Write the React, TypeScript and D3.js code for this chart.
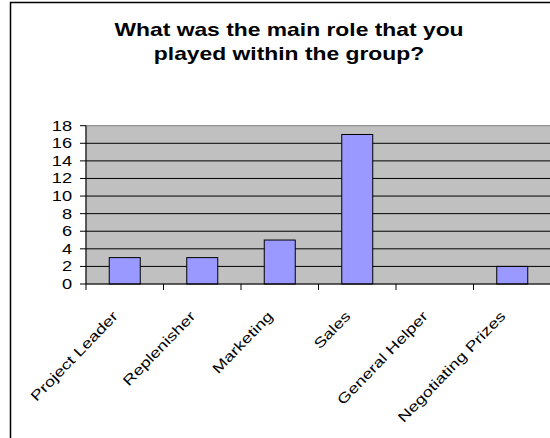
import React from "react";
import * as d3 from "d3";

const categories: string[] = [
  "Project Leader",
  "Replenisher",
  "Marketing",
  "Sales",
  "General Helper",
  "Negotiating Prizes",
];
const values: number[] = [3, 3, 5, 17, 0, 2];
const yTicks: number[] = [0, 2, 4, 6, 8, 10, 12, 14, 16, 18];
const titleLines: string[] = ["What was the main role that you", "played within the group?"];

const W = 550;
const H = 438;
const plot = { left: 86, right: 551, top: 125.7, bottom: 284 };
const SX = 1.3;

export default function App() {
  const x = d3
    .scaleBand<string>()
    .domain(categories)
    .range([plot.left, plot.right])
    .paddingInner(0.6)
    .paddingOuter(0.3);
  const step = x.step();
  const y = d3.scaleLinear().domain([0, 18]).range([plot.bottom, plot.top]);
  const font = "'Liberation Sans', Arial, sans-serif";

  return (
    <svg
      width={W}
      height={H}
      style={{ position: "absolute", left: 0, top: 0, background: "#fff" }}
    >
      <rect x={10.5} y={2.5} width={700} height={600} fill="#fff" stroke="#000" strokeWidth={1.5} />
      {titleLines.map((t, i) => (
        <text
          key={i}
          transform={`translate(289, ${36 + i * 24}) scale(1.27,1)`}
          textAnchor="middle"
          fontFamily={font}
          fontWeight="bold"
          fontSize={18}
          fill="#000"
        >
          {t}
        </text>
      ))}
      <rect
        x={plot.left}
        y={plot.top}
        width={plot.right - plot.left}
        height={plot.bottom - plot.top}
        fill="#c0c0c0"
        stroke="#808080"
        strokeWidth={1}
      />
      {yTicks.slice(1, -1).map((t) => (
        <line key={t} x1={plot.left} x2={plot.right} y1={y(t)} y2={y(t)} stroke="#000" strokeWidth={1} />
      ))}
      {categories.map((c, i) => (
        <rect
          key={c}
          x={x(c)}
          y={y(values[i])}
          width={x.bandwidth()}
          height={plot.bottom - y(values[i])}
          fill="#9999ff"
          stroke="#000"
          strokeWidth={1}
          opacity={values[i] > 0 ? 1 : 0}
        />
      ))}
      <line x1={plot.left} x2={plot.left} y1={plot.top} y2={plot.bottom} stroke="#000" strokeWidth={1} />
      <line x1={plot.left} x2={plot.right} y1={plot.bottom} y2={plot.bottom} stroke="#000" strokeWidth={1} />
      {yTicks.map((t) => (
        <g key={t}>
          <line x1={80} x2={plot.left} y1={y(t)} y2={y(t)} stroke="#000" strokeWidth={1} />
          <text
            transform={`translate(72, ${y(t) + 5}) scale(${SX},1)`}
            textAnchor="end"
            fontFamily={font}
            fontSize={14}
            fill="#000"
          >
            {t}
          </text>
        </g>
      ))}
      {d3.range(categories.length + 1).map((i) => (
        <line
          key={i}
          x1={plot.left + i * step}
          x2={plot.left + i * step}
          y1={plot.bottom}
          y2={plot.bottom + 6}
          stroke="#000"
          strokeWidth={1}
        />
      ))}
      {categories.map((c) => {
        const cx = (x(c) as number) + x.bandwidth() / 2;
        return (
          <text
            key={c}
            transform={`translate(${cx - 6}, 317) rotate(-46) scale(${SX},1)`}
            textAnchor="end"
            fontFamily={font}
            fontSize={14}
            fill="#000"
          >
            {c}
          </text>
        );
      })}
    </svg>
  );
}
